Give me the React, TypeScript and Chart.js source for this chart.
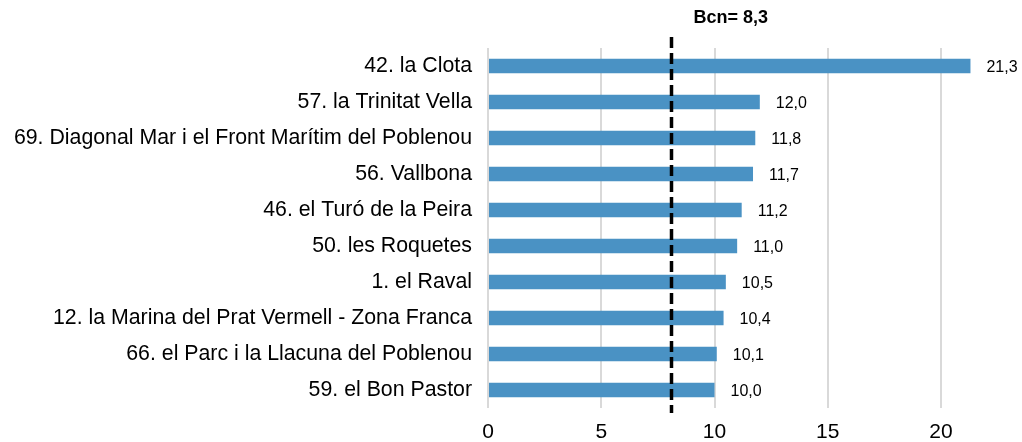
import React, { useEffect, useRef } from "react";
import { Chart, registerables } from "chart.js";

Chart.register(...registerables);

const categories = [
  "42. la Clota",
  "57. la Trinitat Vella",
  "69. Diagonal Mar i el Front Marítim del Poblenou",
  "56. Vallbona",
  "46. el Turó de la Peira",
  "50. les Roquetes",
  "1. el Raval",
  "12. la Marina del Prat Vermell - Zona Franca",
  "66. el Parc i la Llacuna del Poblenou",
  "59. el Bon Pastor",
];
const values = [21.3, 12.0, 11.8, 11.7, 11.2, 11.0, 10.5, 10.4, 10.1, 10.0];
const xTicks = [0, 5, 10, 15, 20];
const referenceLabel = "Bcn= 8,3";
const referenceLinePosition = 8.1;

const FONT = "'Liberation Sans', Arial, sans-serif";

const fmt = (v: number) => v.toFixed(1).replace(".", ",");

const overlayPlugin = {
  id: "overlay",
  afterDatasetsDraw(chart: any) {
    const { ctx, scales } = chart;
    const meta = chart.getDatasetMeta(0);
    ctx.save();
    ctx.fillStyle = "#000";
    ctx.font = `16px ${FONT}`;
    ctx.textAlign = "left";
    ctx.textBaseline = "middle";
    meta.data.forEach((bar: any, i: number) => {
      ctx.fillText(fmt(values[i]), bar.x + 16, bar.y + 2);
    });
    const x = Math.round(scales.x.getPixelForValue(referenceLinePosition)) + 0.5;
    ctx.strokeStyle = "#000";
    ctx.lineWidth = 3.5;
    ctx.setLineDash([11, 5]);
    ctx.beginPath();
    ctx.moveTo(x, 37);
    ctx.lineTo(x, 413);
    ctx.stroke();
    ctx.setLineDash([]);
    ctx.font = `bold 18px ${FONT}`;
    ctx.fillText(referenceLabel, x + 22, 18);
    ctx.restore();
  },
};

export default function App() {
  const ref = useRef<HTMLCanvasElement>(null);
  useEffect(() => {
    document.body.style.margin = "0";
    const chart = new Chart(ref.current!, {
      type: "bar",
      data: {
        labels: categories,
        datasets: [
          {
            data: values,
            backgroundColor: "#4A92C4",
            borderWidth: 0,
            barPercentage: 0.4,
            categoryPercentage: 1,
          },
        ],
      },
      options: {
        indexAxis: "y",
        responsive: false,
        animation: false,
        layout: { padding: { left: 0, top: 48, right: 8.5, bottom: 0 } },
        plugins: { legend: { display: false }, tooltip: { enabled: false } },
        scales: {
          x: {
            min: 0,
            max: 23.2,
            afterBuildTicks: (scale: any) => {
              scale.ticks = xTicks.map((v) => ({ value: v }));
            },
            afterFit: (scale: any) => {
              scale.height = 34;
            },
            grid: { color: "#d9d9d9", lineWidth: 2, drawTicks: false },
            border: { display: false },
            ticks: {
              padding: 12,
              color: "#000",
              font: { family: FONT, size: 21 },
            },
          },
          y: {
            afterFit: (scale: any) => {
              scale.width = 488;
            },
            grid: { display: false, drawTicks: false },
            border: { display: false },
            ticks: {
              padding: 16,
              color: "#000",
              font: { family: FONT, size: 21.3 },
            },
          },
        },
      },
      plugins: [overlayPlugin],
    });
    return () => chart.destroy();
  }, []);
  return (
    <div style={{ width: 1022, height: 442 }}>
      <canvas ref={ref} width={1022} height={442} />
    </div>
  );
}
